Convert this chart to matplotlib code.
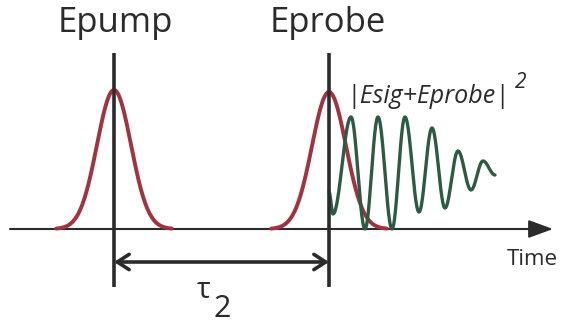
import numpy as np
import matplotlib.pyplot as plt

# --- schematic data (time axis in arbitrary units, amplitude above baseline) ---
pulse_names = ["Epump", "Eprobe"]
pulse_centers = [114, 329]
pulse_heights = [139, 137]
pulse_width = 17

# extrema of the heterodyned signal |Esig+Eprobe|^2 (time, amplitude)
sig_t = [329, 333, 351, 365, 378, 392, 405, 419, 432, 445, 458, 471, 483, 495]
sig_y = [37, 15, 112, 0, 112, 0, 112, 17, 101, 21, 78, 39, 68, 54]

tau_label = "τ"
time_label = "Time"
signal_label = "|Esig+Eprobe|"

RED = "#a3323f"
GREEN = "#2d5a42"
DARK = "#2b2b2b"
FONT = "Open Sans"

fig = plt.figure(figsize=(5.61, 3.23), dpi=100)
ax = fig.add_axes([0, 0, 1, 1])
ax.set_xlim(0, 561)
ax.set_ylim(-94, 229)
ax.axis("off")

# time axis with filled arrow
ax.annotate("", xy=(553, 0), xytext=(10, 0),
            arrowprops=dict(arrowstyle="-|>,head_length=1.5,head_width=0.55",
                            lw=1.5, color=DARK, shrinkA=0, shrinkB=0), zorder=2)

# gaussian pulses
for c, h in zip(pulse_centers, pulse_heights):
    t = np.linspace(c - 3.4 * pulse_width, c + 3.4 * pulse_width, 300)
    ax.plot(t, h * np.exp(-0.5 * ((t - c) / pulse_width) ** 2), color=RED, lw=2.8,
            solid_capstyle="round", zorder=3)

# signal: half-cosine segments between extrema
xs, ys = [], []
for i in range(len(sig_t) - 1):
    s = np.linspace(0, 1, 40)
    xs.append(sig_t[i] + (sig_t[i + 1] - sig_t[i]) * s)
    ys.append(sig_y[i] + (sig_y[i + 1] - sig_y[i]) * (1 - np.cos(np.pi * s)) / 2)
ax.plot(np.concatenate(xs), np.concatenate(ys), color=GREEN, lw=2.4, zorder=4,
        solid_capstyle="round", solid_joinstyle="round")

# vertical pulse markers
for c in pulse_centers:
    ax.plot([c, c], [176, -58], color=DARK, lw=2.6, zorder=5, solid_capstyle="butt")

# delay arrow
ax.annotate("", xy=(pulse_centers[0], -33), xytext=(pulse_centers[1], -33),
            arrowprops=dict(arrowstyle="<->,head_length=0.85,head_width=0.55",
                            lw=2.6, color=DARK, shrinkA=0, shrinkB=0), zorder=5)

# labels
for name, x0 in zip(pulse_names, [58, 270]):
    ax.text(x0, 197, name, fontsize=25, family=FONT, color=DARK, va="baseline", ha="left")

ax.text(346, 126, signal_label, fontsize=18, family=FONT, style="italic", color=DARK,
        va="baseline", ha="left")
ax.text(515, 141, "2", fontsize=15, family=FONT, style="italic", color=DARK,
        va="baseline", ha="left")
ax.text(507, -36, time_label, fontsize=16, family=FONT, color=DARK, va="baseline", ha="left")
ax.text(197, -69, tau_label, fontsize=21, family=FONT, color=DARK, va="baseline", ha="left")
ax.text(214, -88, "2", fontsize=22, family=FONT, color=DARK, va="baseline", ha="left")

fig.savefig("out.png", dpi=100)
